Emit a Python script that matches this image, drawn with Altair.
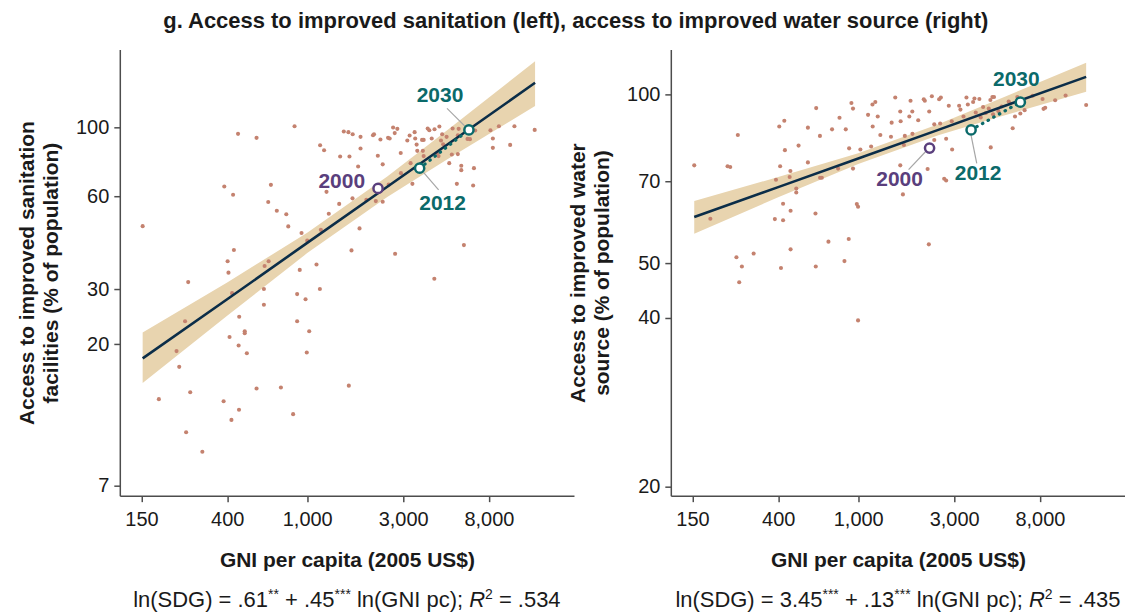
import altair as alt
import pandas as pd

# ---------------- data ----------------
# Left panel: access to improved sanitation (GNI per capita, % of population)
san_gni = [152, 453, 560, 865, 387, 428, 660, 640, 706, 787, 805, 937, 1000, 1159, 1213, 1247,
           1169, 1280, 1442, 1458, 1622, 1520, 1603, 1683, 1841, 1841, 1791, 1679, 1820, 1660,
           1968, 2124, 2148, 2312, 2244, 2373, 2193, 2373, 2523, 2570, 2673, 2806, 2723, 2917,
           2541, 2735, 2924, 3145, 3230, 3420, 3443, 3499, 3525, 3724, 3793, 3758, 3793, 3972,
           4046, 4159, 4295, 4540, 4688, 4624, 4932, 4416, 4498, 4742, 5284, 5662, 5610, 5236,
           5610, 5082, 3334, 3266, 5834, 5834, 5546, 6683, 6745, 6266, 6442, 6839, 8147, 8974,
           8375, 8375, 10210, 10720, 13520, 6012, 4285, 256, 402, 432, 406, 614, 643, 918, 1112,
           1156, 609, 423, 891, 981, 609, 459, 247, 891, 489, 489, 1023, 411, 456, 501, 995, 224,
           231, 183, 262, 384, 458, 420, 560, 740, 851, 1610, 250, 301]
san_pct = [48.0, 95.2, 92.4, 100.7, 64.4, 60.6, 65.2, 57.4, 53.8, 52.4, 47.9, 45.6, 43.1, 87.5,
           84.3, 61.9, 46.7, 52.6, 56.6, 80.5, 80.5, 96.9, 96.4, 94.9, 93.1, 85.4, 74.7, 59.0,
           47.2, 40.1, 58.3, 94.2, 94.9, 91.3, 80.9, 75.9, 57.8, 57.5, 92.4, 92.0, 99.8, 98.8,
           95.7, 82.6, 65.3, 39.1, 71.1, 90.6, 94.0, 96.4, 92.0, 87.9, 83.9, 91.0, 91.0, 83.9,
           80.7, 99.0, 97.8, 92.0, 98.5, 100.5, 94.9, 90.6, 93.1, 82.4, 80.7, 88.1, 99.0, 98.8,
           94.2, 81.7, 81.9, 76.6, 65.7, 76.6, 75.1, 72.7, 65.7, 64.9, 73.8, 91.7, 91.5, 97.6,
           97.8, 100.7, 92.0, 85.8, 87.7, 100.7, 98.0, 41.7, 32.5, 31.7, 37.0, 40.2, 34.0, 35.7,
           37.0, 34.7, 36.1, 30.1, 30.1, 29.2, 29.0, 27.9, 26.8, 24.5, 23.7, 23.7, 22.0, 21.7,
           22.0, 21.1, 19.8, 18.7, 18.8, 19.0, 16.9, 13.3, 14.0, 13.1, 12.3, 11.4, 14.4, 14.5,
           11.9, 14.7, 10.4, 9.0]

# Right panel: access to improved water source
wat_gni = [153, 184, 224, 231, 252, 248, 264, 256, 302, 385, 390, 405, 409, 429, 432, 423, 423,
           413, 456, 460, 461, 461, 492, 492, 505, 562, 562, 618, 645, 646, 659, 613, 615, 711,
           741, 807, 794, 867, 901, 854, 897, 925, 942, 942, 984, 998, 1025, 1119, 1159, 1180,
           1177, 1216, 1250, 1288, 1455, 1466, 1528, 1618, 1625, 1618, 1668, 1687, 1705, 1795,
           1820, 1857, 1860, 1987, 2118, 2143, 2254, 2213, 2244, 2323, 2388, 2388, 2525, 2575,
           2555, 2675, 2736, 2736, 2820, 2918, 2930, 3175, 3222, 3337, 3452, 3507, 3726, 3783,
           3840, 4002, 4065, 4177, 4305, 4457, 4540, 4645, 4732, 4680, 4558, 4977, 5164, 5689,
           5598, 5861, 6017, 6180, 6397, 6718, 7362, 8250, 8343, 8506, 9530, 10740, 13590, 998]
wat_pct = [74.8, 60.1, 74.5, 74.3, 84.7, 51.3, 49.4, 46.3, 52.1, 60.0, 70.5, 87.7, 74.5, 89.8,
           79.6, 63.9, 59.7, 49.1, 71.3, 73.1, 62.1, 53.0, 68.0, 66.9, 81.1, 87.3, 75.7, 94.6,
           84.4, 71.1, 71.1, 61.4, 49.4, 54.7, 86.7, 90.9, 73.8, 86.7, 80.2, 50.5, 55.3, 96.6,
           94.4, 73.8, 63.8, 63.1, 79.8, 92.0, 80.8, 87.7, 96.0, 97.0, 91.4, 84.7, 84.1, 89.1,
           98.8, 93.3, 89.6, 74.8, 66.4, 81.3, 84.4, 91.4, 97.5, 93.3, 85.1, 90.0, 98.1, 97.5,
           93.3, 73.7, 54.1, 99.3, 88.5, 83.0, 98.1, 98.8, 88.8, 70.8, 70.3, 83.4, 95.5, 89.6,
           79.8, 95.5, 94.0, 91.4, 98.8, 96.0, 97.0, 98.4, 92.9, 98.2, 91.0, 95.0, 92.7, 94.4,
           97.8, 99.0, 99.0, 92.2, 80.5, 93.4, 95.2, 96.4, 97.2, 87.1, 91.4, 99.0, 92.5, 93.8,
           99.5, 98.2, 94.3, 94.7, 97.7, 99.6, 95.8, 39.6]

# Fitted lines and confidence bands
san_fit_gni = [152, 400, 1000, 2500, 5000, 13580]
san_fit = [18.0, 27.9, 42.4, 64.3, 88.1, 139.0]
san_lo = [15.0, 24.7, 39.3, 59.6, 79.0, 117.0]
san_hi = [21.8, 31.6, 45.7, 69.4, 98.2, 163.0]

wat_fit_gni = [153, 400, 1000, 2500, 5000, 13590]
wat_fit = [60.5, 68.4, 76.9, 86.5, 94.6, 107.5]
wat_lo = [56.5, 65.6, 75.2, 84.6, 91.2, 101.1]
wat_hi = [64.6, 71.3, 78.6, 88.5, 98.1, 113.9]

# Year markers (2000 actual, 2012 actual, 2030 projection)
years = ["2000", "2012", "2030"]
san_year_gni = [2250, 3622, 6368]
san_year_pct = [63.5, 73.8, 98.0]
wat_year_gni = [2263, 3640, 6397]
wat_year_pct = [80.3, 86.5, 96.9]

# Leader lines for the year labels (start / end in data units)
san_lead_x1 = [3795, 4955]
san_lead_y1 = [71.4, 115.0]
san_lead_x2 = [4500, 6060]
san_lead_y2 = [62.8, 101.0]
wat_lead_x1 = [2153, 3640]
wat_lead_y1 = [79.0, 84.6]
wat_lead_x2 = [1780, 3884]
wat_lead_y2 = [73.5, 75.4]

x_ticks = [150, 400, 1000, 3000, 8000]
san_y_ticks = [7, 20, 30, 60, 100]
wat_y_ticks = [20, 40, 50, 70, 100]

san_eq = [("ln(SDG) = .61", "n"), ("**", "sup"), (" + .45", "n"), ("***", "sup"),
          (" ln(GNI pc); ", "n"), ("R", "it"), ("2", "sup"), (" = .534", "n")]
wat_eq = [("ln(SDG) = 3.45", "n"), ("***", "sup"), (" + .13", "n"), ("***", "sup"),
          (" ln(GNI pc); ", "n"), ("R", "it"), ("2", "sup"), (" = .435", "n")]

# ---------------- styling ----------------
FONT = "Liberation Sans"
W, H = 455, 447
XDOM = [117, 21200]
SAN_YDOM = [6.5, 178]
WAT_YDOM = [19.3, 120.3]
DOT = "#c4826f"
BAND = "#e8d4af"
NAVY = "#0b2d48"
TEAL = "#0b6a6a"
PURPLE = "#5a3f7d"
LEAD = "#a6a6a6"
TXT = "#1a1a1a"
EQ_SIZE = 22
SUP_SIZE = 14

AW = {' ': 278, '(': 333, ')': 333, '.': 278, ';': 278, '=': 584, '+': 584, '*': 389,
      'l': 222, 'n': 556, 'S': 667, 'D': 722, 'G': 778, 'N': 722, 'I': 278,
      'p': 556, 'c': 500, 'R': 722}


def tw(s, size):
    return sum(AW.get(ch, 556) for ch in s) * size / 1000.0


def panel(gni, pct, fg, fm, flo, fhi, yg, yp, lx1, ly1, lx2, ly2,
          ydom, yticks, ytitle, label_style, eq):
    xs = alt.Scale(type="log", domain=XDOM, nice=False)
    ys = alt.Scale(type="log", domain=ydom, nice=False)
    xax = alt.Axis(values=x_ticks, format=",", title="GNI per capita (2005 US$)",
                   titlePadding=20, labelPadding=8)
    yax = alt.Axis(values=yticks, format="d", title=ytitle, titlePadding=14,
                   titleLineHeight=24, labelPadding=5)

    def X(f):
        return alt.X(f"{f}:Q", scale=xs, axis=xax)

    def Y(f):
        return alt.Y(f"{f}:Q", scale=ys, axis=yax)

    pts = pd.DataFrame({"gni": gni, "pct": pct})
    fit = pd.DataFrame({"gni": fg, "fit": fm, "lo": flo, "hi": fhi})
    yrs = pd.DataFrame({"gni": yg, "pct": yp, "year": years})
    lead = pd.DataFrame({"x1": lx1, "y1": ly1, "x2": lx2, "y2": ly2})

    band = alt.Chart(fit).mark_area(color=BAND, opacity=1).encode(
        x=X("gni"), y=Y("lo"), y2="hi:Q")
    dots = alt.Chart(pts).mark_circle(color=DOT, size=17, opacity=1).encode(
        x=X("gni"), y=Y("pct"))
    line = alt.Chart(fit).mark_line(color=NAVY, strokeWidth=2.6).encode(
        x=X("gni"), y=Y("fit"))
    proj = alt.Chart(yrs[yrs["year"] != "2000"]).mark_line(
        color=TEAL, strokeWidth=3.2, strokeDash=[0.5, 6], strokeCap="round").encode(
        x=X("gni"), y=Y("pct"))
    leads = alt.Chart(lead).mark_rule(color=LEAD, strokeWidth=1.2).encode(
        x=X("x1"), y=Y("y1"), x2="x2:Q", y2="y2:Q")
    rings = alt.Chart(yrs).mark_point(shape="circle", size=85, strokeWidth=2.5,
                                      fill="white", fillOpacity=1, opacity=1).encode(
        x=X("gni"), y=Y("pct"),
        stroke=alt.Stroke("year:N", scale=alt.Scale(domain=years,
                                                    range=[PURPLE, TEAL, TEAL]),
                          legend=None))
    layers = [band, dots, line, proj, leads, rings]

    for i, yr in enumerate(years):
        dx, dy, align = label_style[i]
        col = PURPLE if yr == "2000" else TEAL
        layers.append(
            alt.Chart(yrs.iloc[[i]]).mark_text(
                font=FONT, fontSize=21, fontWeight="bold", color=col,
                dx=dx, dy=dy, align=align, baseline="middle").encode(
                x=X("gni"), y=Y("pct"), text="year:N"))

    sizes = {"n": EQ_SIZE, "it": EQ_SIZE, "sup": SUP_SIZE}
    total = sum(tw(s, sizes[k]) for s, k in eq)
    cursor = W / 2 - total / 2
    base_y = H + 112
    for s, k in eq:
        lead_sp = len(s) - len(s.lstrip(" "))
        xpos = cursor + tw(" " * lead_sp, sizes[k])
        cursor += tw(s, sizes[k])
        ypos = base_y - 8 if k == "sup" else base_y
        layers.append(
            alt.Chart(pd.DataFrame({"t": [s.strip()]})).mark_text(
                font=FONT, fontSize=sizes[k], fontStyle="italic" if k == "it" else "normal",
                color=TXT, align="left", baseline="alphabetic").encode(
                x=alt.value(xpos), y=alt.value(ypos), text="t:N"))

    return alt.layer(*layers).properties(width=W, height=H)


left = panel(san_gni, san_pct, san_fit_gni, san_fit, san_lo, san_hi,
             san_year_gni, san_year_pct, san_lead_x1, san_lead_y1, san_lead_x2, san_lead_y2,
             SAN_YDOM, san_y_ticks,
             ["Access to improved sanitation", "facilities (% of population)"],
             [(-13, -6, "right"), (23, 36, "center"), (-29, -34, "center")], san_eq)
right = panel(wat_gni, wat_pct, wat_fit_gni, wat_fit, wat_lo, wat_hi,
              wat_year_gni, wat_year_pct, wat_lead_x1, wat_lead_y1, wat_lead_x2, wat_lead_y2,
              WAT_YDOM, wat_y_ticks,
              ["Access to improved water", "source (% of population)"],
              [(-30, 32, "center"), (7, 44, "center"), (-4, -22, "center")], wat_eq)

chart = alt.hconcat(left, right, spacing=97, bounds="flush").properties(
    title=alt.TitleParams(
        "g. Access to improved sanitation (left), access to improved water source (right)",
        font=FONT, fontSize=22, fontWeight="bold", color=TXT, anchor="middle",
        offset=17, dx=5),
    padding={"left": 8, "right": 0, "top": 1, "bottom": 0},
).configure_view(stroke=None).configure_axis(
    grid=False, domainColor="#4d4d4d", domainWidth=1.5, tickColor="#4d4d4d",
    tickWidth=1.5, tickSize=6, labelFont=FONT, labelFontSize=20, labelColor=TXT,
    titleFont=FONT, titleFontSize=21, titleFontWeight="bold", titleColor=TXT,
)

chart.save("out.html", embed_options={"renderer": "svg", "actions": False})
